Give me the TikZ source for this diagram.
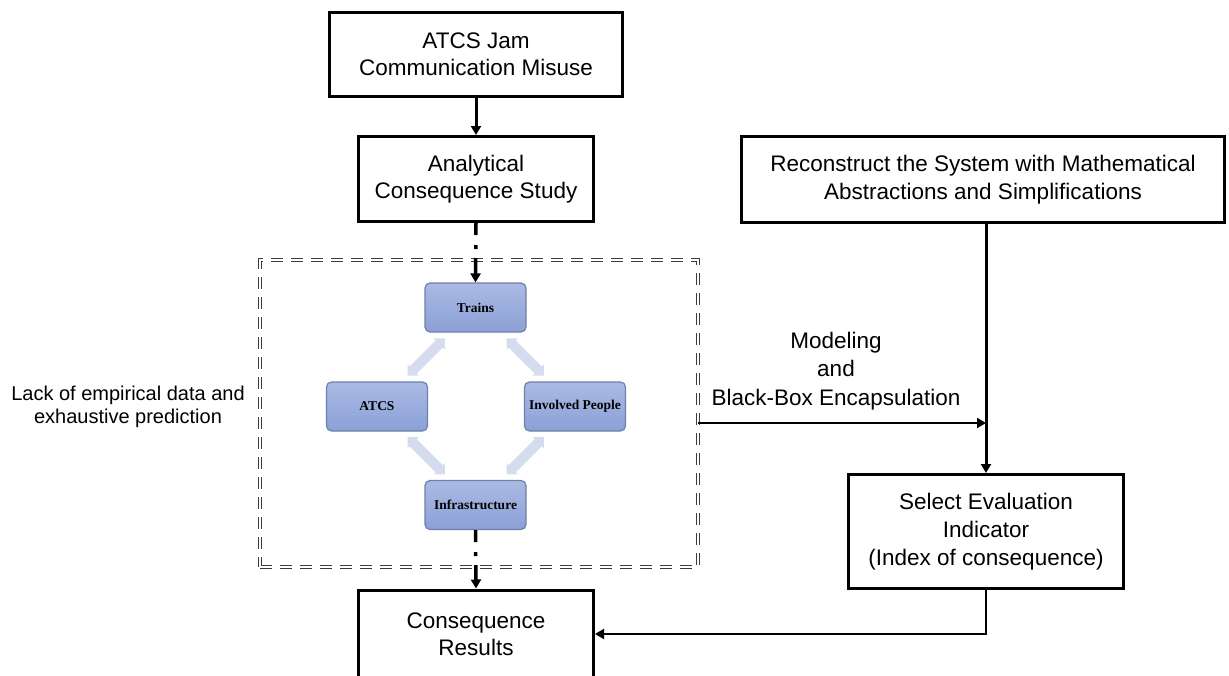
\documentclass[tikz,border=0pt]{standalone}
\usepackage{fontspec}
\setmainfont{Liberation Sans}
\newfontfamily\tnr{Liberation Serif}
\usetikzlibrary{arrows.meta,calc}
\definecolor{boxtop}{HTML}{ABBAE3}
\definecolor{boxbot}{HTML}{8BA0D7}
\definecolor{boxline}{HTML}{6F7FA8}
\definecolor{cyclefill}{HTML}{D5DCEE}
\definecolor{framecol}{HTML}{3A3A3A}
\tikzset{
  mainbox/.style={draw, line width=3pt, inner sep=0pt, align=center,
    font=\fontsize{22.5}{27.5}\selectfont},
  partbox/.style={draw=boxline, line width=1.2pt, rounded corners=5pt,
    top color=boxtop, bottom color=boxbot, inner sep=0pt,
    minimum width=101pt, minimum height=49pt,
    font=\tnr\bfseries\fontsize{13.5}{16}\selectfont},
  scopeframe/.style={draw=framecol, line width=0.9pt, double distance=1.6pt,
    dash pattern=on 12pt off 8pt, inner sep=0pt},
  tip/.style={-{Triangle[length=9pt,width=10pt]}},
  flow/.style={tip, line width=3pt},
  dashdotflow/.style={tip, line width=3.5pt,
    dash pattern=on 12pt off 10pt on 4pt off 9pt on 40pt off 10pt},
  note/.style={align=center, inner sep=0pt},
  dblarrow/.pic={
    \fill[cyclefill] (-26.5,0) -- (-18.5,8) -- (-18.5,5) -- (18.5,5)
      -- (18.5,8) -- (26.5,0) -- (18.5,-8) -- (18.5,-5) -- (-18.5,-5)
      -- (-18.5,-8) -- cycle;
  }
}
\begin{document}
\begin{tikzpicture}[x=1pt,y=-1pt]
\path[use as bounding box] (0,0) rectangle (1229,675);
\clip (0,0) rectangle (1229,675);

% main chain of boxes
\node[mainbox, minimum width=293pt, minimum height=84pt] (jam) at (476,54.5)
  {ATCS Jam\\Communication Misuse};
\node[mainbox, minimum width=235pt, minimum height=85pt] (study) at (476,179)
  {Analytical\\Consequence Study};
\node[mainbox, minimum width=235pt, minimum height=88pt] (result) at (476,634)
  {Consequence\\Results};
\node[mainbox, minimum width=483pt, minimum height=86pt] (rebuild) at (983,179.5)
  {Reconstruct the System with Mathematical\\Abstractions and Simplifications};
\node[mainbox, minimum width=275pt, minimum height=114pt,
  font=\fontsize{22.5}{28}\selectfont] (select) at (986,531.5)
  {Select Evaluation\\Indicator\\(Index of consequence)};

% dashed frame around the interacting parts
\node[scopeframe, minimum width=438pt, minimum height=307pt] (frame) at (479,413.5) {};

% interacting parts
\node[partbox] (trains) at (475.5,307.5) {Trains};
\node[partbox] (atcs) at (377,406.5) {ATCS};
\node[partbox] (people) at (575,406.5) {Involved People};
\node[partbox] (infra) at (475.5,505) {Infrastructure};

% block arrows of the cycle
\path ($(trains.south west)!0.5!(atcs.north east)$) pic[rotate=45] {dblarrow};
\path ($(trains.south east)!0.5!(people.north west)$) pic[rotate=-45] {dblarrow};
\path ($(atcs.south east)!0.5!(infra.north west)$) pic[rotate=-45] {dblarrow};
\path ($(people.south west)!0.5!(infra.north east)$) pic[rotate=45] {dblarrow};

% labels
\node[note, font=\fontsize{20}{23}\selectfont] (lack) at (128,406.5)
  {Lack of empirical data and\\exhaustive prediction};
\node[note, font=\fontsize{22.5}{28.5}\selectfont] (model) at (836,371)
  {Modeling\\and\\Black-Box Encapsulation};

% connectors
\draw[flow] (jam.south) -- (study.north);
\draw[dashdotflow] (study.south) -- (trains.north);
\draw[dashdotflow] (infra.south) -- (result.north);
\draw[flow] (rebuild.south -| select.north) -- (select.north);
\coordinate (fromframe) at (frame.east |- 0,423);
\draw[tip, line width=2.5pt] (fromframe) -- (fromframe -| select.north);
\draw[tip, line width=2pt] (select.south) |- (result.east);
\end{tikzpicture}
\end{document}
